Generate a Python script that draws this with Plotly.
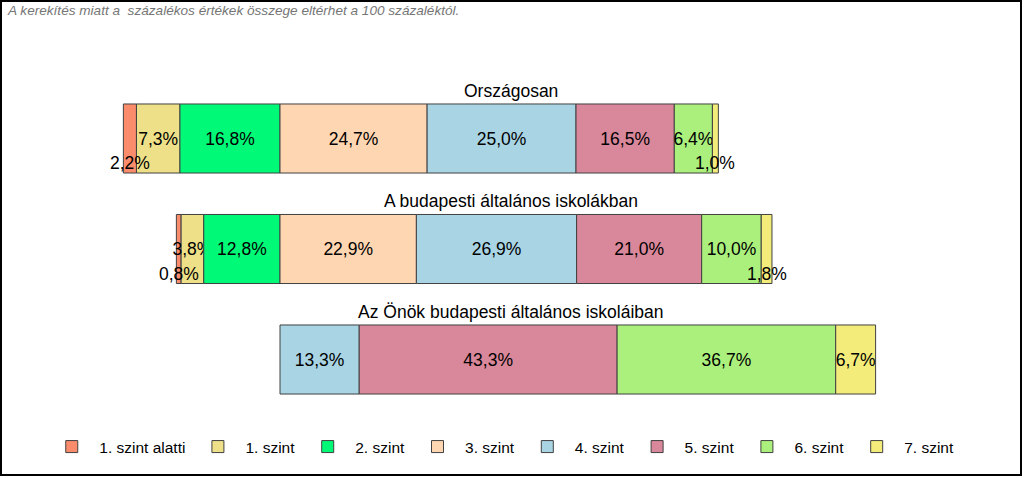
import plotly.graph_objects as go
import numpy as np

groups = ["Országosan", "A budapesti általános iskolákban", "Az Önök budapesti általános iskoláiban"]
levels = ["1. szint alatti", "1. szint", "2. szint", "3. szint", "4. szint", "5. szint", "6. szint", "7. szint"]
colors = ["#FA8C6C", "#EDE088", "#00FA78", "#FFD6B2", "#A9D4E4", "#D9879A", "#ABF07C", "#F3EC7A"]

# values per group, order of levels
orszagos = [2.2, 7.3, 16.8, 24.7, 25.0, 16.5, 6.4, 1.0]
budapest = [0.8, 3.8, 12.8, 22.9, 26.9, 21.0, 10.0, 1.8]
onok = [0.0, 0.0, 0.0, 0.0, 13.3, 43.3, 36.7, 6.7]

data = np.array([orszagos, budapest, onok])
# bars are aligned at the start of "3. szint"
left = -data[:, :3].sum(axis=1)
bases = left[:, None] + np.hstack([np.zeros((3, 1)), np.cumsum(data, axis=1)[:, :-1]])

small = 2.5  # labels of tiny segments are shown below the bar centre
W, H = 1024, 478
fig = go.Figure()
ypos = np.arange(len(groups))

def fmt(v):
    return f"{v:.1f}".replace(".", ",") + "%"

for k, lev in enumerate(levels):
    vals = data[:, k]
    x = [v if v > 0 else None for v in vals]
    txt = [fmt(v) if v >= small else "" for v in vals]
    fig.add_trace(go.Bar(
        y=ypos, x=x, base=bases[:, k], orientation="h", name=lev,
        marker=dict(color=colors[k], line=dict(color="#404040", width=1)),
        width=0.625, text=txt, textposition="inside", insidetextanchor="middle",
        textangle=0, constraintext="none", cliponaxis=False,
        textfont=dict(family="Liberation Sans, Arial", size=17.5, color="#000000"),
        hoverinfo="skip",
    ))
    for g in range(len(groups)):
        v = vals[g]
        if 0 < v < small:
            fig.add_annotation(x=bases[g, k] + v / 2, y=g + 0.225, xref="x", yref="y",
                               text=fmt(v), showarrow=False,
                               font=dict(family="Liberation Sans, Arial", size=17.5, color="#000000"))

for g, name in enumerate(groups):
    fig.add_annotation(x=0.499, y=g - 0.43, xref="paper", yref="y", text=name, showarrow=False,
                       font=dict(family="Liberation Sans, Arial", size=17.5, color="#000000"))

fig.add_annotation(x=5 / W, y=1 - 10 / H, xref="paper", yref="paper", xanchor="left", yanchor="middle",
                   text="A kerekítés miatt a  százalékos értékek összege eltérhet a 100 százaléktól.",
                   showarrow=False,
                   font=dict(family="Liberation Sans, Arial", size=13.6, color="#767676", style="italic"))

fig.add_shape(type="rect", xref="paper", yref="paper", x0=1 / W, x1=1021 / W, y0=1 - 475 / H, y1=1 - 1 / H,
              line=dict(color="#000000", width=2))

px_per = 5.956
x0 = 280
xmin = -x0 / px_per
xmax = xmin + W / px_per
c0, step = 138.5, 110.5
ymin = (0 - c0) / step
ymax = (H - c0) / step

fig.update_layout(
    width=W, height=H, margin=dict(l=0, r=0, t=0, b=0),
    barmode="overlay", plot_bgcolor="white", paper_bgcolor="white",
    xaxis=dict(range=[xmin, xmax], visible=False, fixedrange=True),
    yaxis=dict(range=[ymax, ymin], visible=False, fixedrange=True),
    showlegend=True,
    legend=dict(orientation="h", x=0.49, xanchor="center", y=1 - 447 / H, yanchor="middle",
                font=dict(family="Liberation Sans, Arial", size=15.5, color="#000000"),
                traceorder="normal", itemwidth=45, bgcolor="rgba(0,0,0,0)"),
    font=dict(family="Liberation Sans, Arial"),
)

fig.write_html("out.html", config={"displayModeBar": False},
               post_script="document.body.style.margin='0px';document.body.style.overflow='hidden';")
